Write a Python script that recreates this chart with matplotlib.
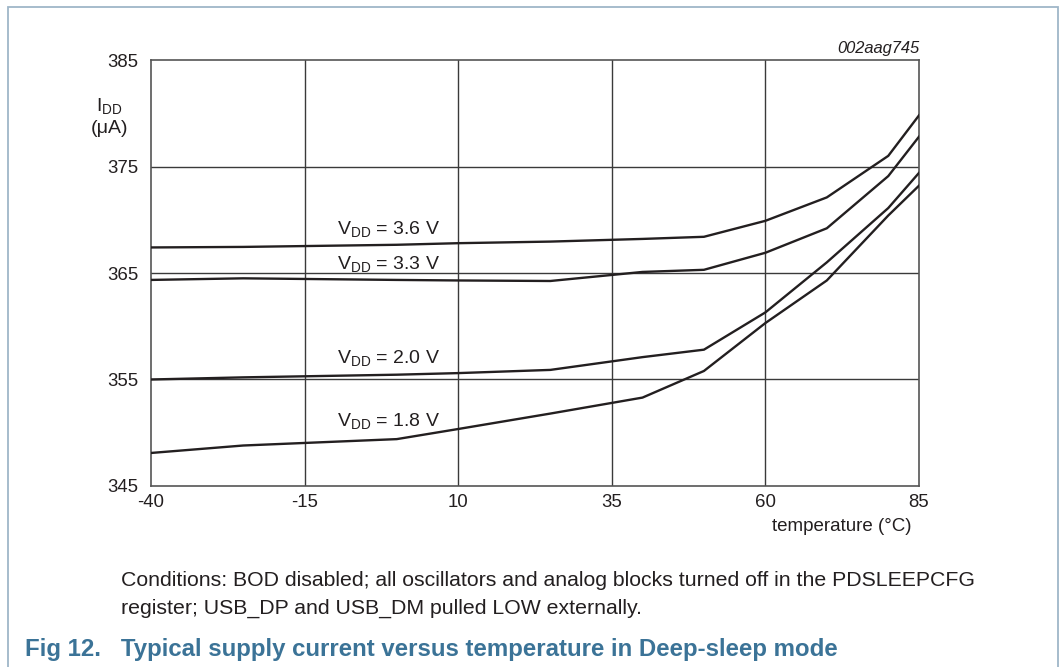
import matplotlib.pyplot as plt
from matplotlib.patches import Rectangle

plt.rcParams['font.family'] = ['Liberation Sans', 'DejaVu Sans']
plt.rcParams['axes.unicode_minus'] = False

# temperatures (deg C) where the curves bend
temps = [-40, -25, 0, 10, 25, 40, 50, 60, 70, 80, 85]

# supply current (uA) for each VDD
idd_36 = [367.4, 367.45, 367.65, 367.8, 367.95, 368.2, 368.4, 369.9, 372.1, 376.0, 379.8]
idd_33 = [364.35, 364.5, 364.35, 364.3, 364.25, 365.1, 365.3, 366.9, 369.2, 374.1, 377.8]
idd_20 = [355.0, 355.2, 355.45, 355.6, 355.9, 357.1, 357.8, 361.3, 366.0, 371.1, 374.4]
idd_18 = [348.1, 348.8, 349.4, 350.35, 351.8, 353.3, 355.8, 360.3, 364.3, 370.4, 373.2]

series = [idd_36, idd_33, idd_20, idd_18]
labels = ['3.6', '3.3', '2.0', '1.8']
label_y = [369.05, 365.8, 356.9, 351.0]

x_ticks = [-40, -15, 10, 35, 60, 85]
y_ticks = [345, 355, 365, 375, 385]

fig = plt.figure(figsize=(10.64, 6.67), dpi=100)
ax = fig.add_axes([0.1419, 0.2714, 0.7218, 0.6386])

for xv in x_ticks[1:-1]:
    ax.axvline(xv, color='#3a3a3a', lw=1.0, zorder=1)
for yv in y_ticks[1:-1]:
    ax.axhline(yv, color='#3a3a3a', lw=1.0, zorder=1)

for vals in series:
    ax.plot(temps, vals, color='#231f20', lw=1.7, zorder=3)

for lab, ly in zip(labels, label_y):
    ax.text(-9.7, ly, r'V$_{\mathregular{DD}}$ = ' + lab + ' V', fontsize=14,
            ha='left', va='center', color='#231f20')

ax.set_xlim(-40, 85)
ax.set_ylim(345, 385)
ax.set_xticks(x_ticks)
ax.set_yticks(y_ticks)
ax.tick_params(length=0, labelsize=13.4, colors='#231f20', pad=9)
ax.tick_params(axis='x', pad=6)
for sp in ax.spines.values():
    sp.set_color('#555555')
    sp.set_linewidth(1.2)

fig.text(0.103, 0.840, r'I$_{\mathregular{DD}}$', fontsize=14, ha='center', va='center', color='#231f20')
fig.text(0.103, 0.807, '(μA)', fontsize=14, ha='center', va='center', color='#231f20')
fig.text(0.8637, 0.928, '002aag745', fontsize=11.9, style='italic', ha='right', va='center', color='#231f20')
fig.text(0.857, 0.211, 'temperature (°C)', fontsize=13.5, ha='right', va='center', color='#231f20')

fig.text(0.1137, 0.129, 'Conditions: BOD disabled; all oscillators and analog blocks turned off in the PDSLEEPCFG',
         fontsize=15.3, ha='left', va='center', color='#231f20')
fig.text(0.1137, 0.088, 'register; USB_DP and USB_DM pulled LOW externally.',
         fontsize=15.3, ha='left', va='center', color='#231f20')
fig.text(0.0235, 0.026, 'Fig 12.   Typical supply current versus temperature in Deep-sleep mode',
         fontsize=17.3, fontweight='bold', ha='left', va='center', color='#3b7397')

fig.patches.append(Rectangle((0.0075, -0.1), 0.987, 1.089, transform=fig.transFigure,
                             fill=False, edgecolor='#9fb6c8', lw=1.3))

fig.savefig('out.png', dpi=100)
